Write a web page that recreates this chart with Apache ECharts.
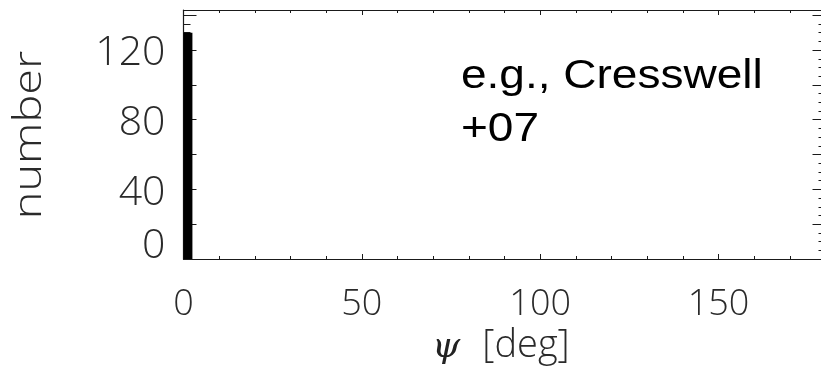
<!DOCTYPE html>
<html>
<head>
<meta charset="utf-8">
<script src="https://cdn.jsdelivr.net/npm/echarts@6/dist/echarts.min.js"></script>
<style>
  html, body { margin: 0; padding: 0; background: #fff; }
  #chart { width: 821px; height: 368px; }
</style>
</head>
<body>
<div id="chart"></div>
<script>
// Histogram of the angle psi (degrees): one occupied bin near zero.
const binStart = [0];
const binEnd = [2.5];
const counts = [130];

// Axis ranges and labelled ticks
const xRange = [0, 180];
const xTickLabels = [0, 50, 100, 150];
const yRange = [0, 143];
const yTickLabels = [0, 40, 80, 120];

const thinFont = '"Open Sans"';
const thinWeight = 300;
const labelInk = '#2a2a2a';
const ink = '#1a1a1a';

const bins = binStart.map((s, i) => [s, binEnd[i], counts[i]]);

function xAxisCommon(extra) {
  return Object.assign({
    type: 'value',
    min: xRange[0],
    max: xRange[1],
    interval: 50,
    axisLine: { show: true, onZero: false, lineStyle: { color: ink, width: 1.2 } },
    axisTick: { show: true, inside: true, length: 5, lineStyle: { color: ink, width: 1 } },
    minorTick: { show: true, splitNumber: 5, length: 3, lineStyle: { color: ink, width: 1 } },
    splitLine: { show: false }
  }, extra);
}

function yAxisCommon(extra) {
  return Object.assign({
    type: 'value',
    min: yRange[0],
    max: yRange[1],
    interval: 20,
    axisLine: { show: true, onZero: false, lineStyle: { color: ink, width: 1.2 } },
    axisTick: { show: true, inside: true, length: 13, lineStyle: { color: ink, width: 1 } },
    minorTick: { show: true, splitNumber: 4, length: 7, lineStyle: { color: ink, width: 1 } },
    splitLine: { show: false }
  }, extra);
}

const chart = echarts.init(document.getElementById('chart'), null, { renderer: 'canvas' });

chart.setOption({
  animation: false,
  backgroundColor: '#fff',
  grid: {
    left: 183.5, width: 642, top: 10, height: 249,
    containLabel: false,
    outerBoundsMode: 'none'
  },
  xAxis: [
    xAxisCommon({
      position: 'bottom',
      axisLabel: {
        show: true,
        margin: 28,
        fontFamily: thinFont,
        fontWeight: thinWeight,
        fontSize: 36,
        color: labelInk,
        formatter: v => (xTickLabels.includes(v) ? String(v) : '')
      }
    }),
    xAxisCommon({ position: 'top', axisLabel: { show: false } })
  ],
  yAxis: [
    yAxisCommon({
      position: 'left',
      axisLabel: {
        show: true,
        margin: 18,
        fontFamily: thinFont,
        fontWeight: thinWeight,
        fontSize: 41,
        color: labelInk,
        formatter: v => {
          if (!yTickLabels.includes(v)) return '';
          return v === 0 ? '{z|0}' : '{n|' + v + '}';
        },
        rich: {
          n: { fontFamily: thinFont, fontWeight: thinWeight, fontSize: 41, color: labelInk, padding: [7, 0, 0, 0] },
          z: { fontFamily: thinFont, fontWeight: thinWeight, fontSize: 41, color: labelInk, padding: [0, 0, 26, 0] }
        }
      }
    }),
    yAxisCommon({ position: 'right', axisLabel: { show: false } })
  ],
  series: [
    {
      type: 'custom',
      xAxisIndex: 0,
      yAxisIndex: 0,
      data: bins,
      renderItem: (params, api) => {
        const p0 = api.coord([api.value(0), 0]);
        const p1 = api.coord([api.value(1), api.value(2)]);
        return {
          type: 'rect',
          shape: { x: p0[0], y: p1[1], width: p1[0] - p0[0], height: p0[1] - p1[1] },
          style: { fill: '#000' }
        };
      }
    }
  ],
  graphic: [
    {
      type: 'text',
      x: 30,
      y: 135,
      rotation: Math.PI / 2,
      scaleX: 1.2,
      style: {
        text: 'number',
        font: '300 39px "Open Sans"',
        fill: labelInk,
        align: 'center',
        verticalAlign: 'middle'
      }
    },
    {
      type: 'text',
      x: 446,
      y: 348,
      style: {
        text: 'ψ',
        font: 'italic 36px "DejaVu Serif"',
        fill: '#222',
        align: 'center',
        verticalAlign: 'middle'
      }
    },
    {
      type: 'text',
      x: 526,
      y: 346,
      style: {
        text: '[deg]',
        font: '300 38px "Open Sans"',
        fill: labelInk,
        align: 'center',
        verticalAlign: 'middle'
      }
    },
    {
      type: 'text',
      x: 461,
      y: 76.5,
      scaleX: 1.15,
      style: {
        text: 'e.g., Cresswell',
        font: '40px "Liberation Sans"',
        fill: '#000',
        align: 'left',
        verticalAlign: 'middle'
      }
    },
    {
      type: 'text',
      x: 461,
      y: 129.5,
      scaleX: 1.15,
      style: {
        text: '+07',
        font: '40px "Liberation Sans"',
        fill: '#000',
        align: 'left',
        verticalAlign: 'middle'
      }
    }
  ]
});
</script>
</body>
</html>
